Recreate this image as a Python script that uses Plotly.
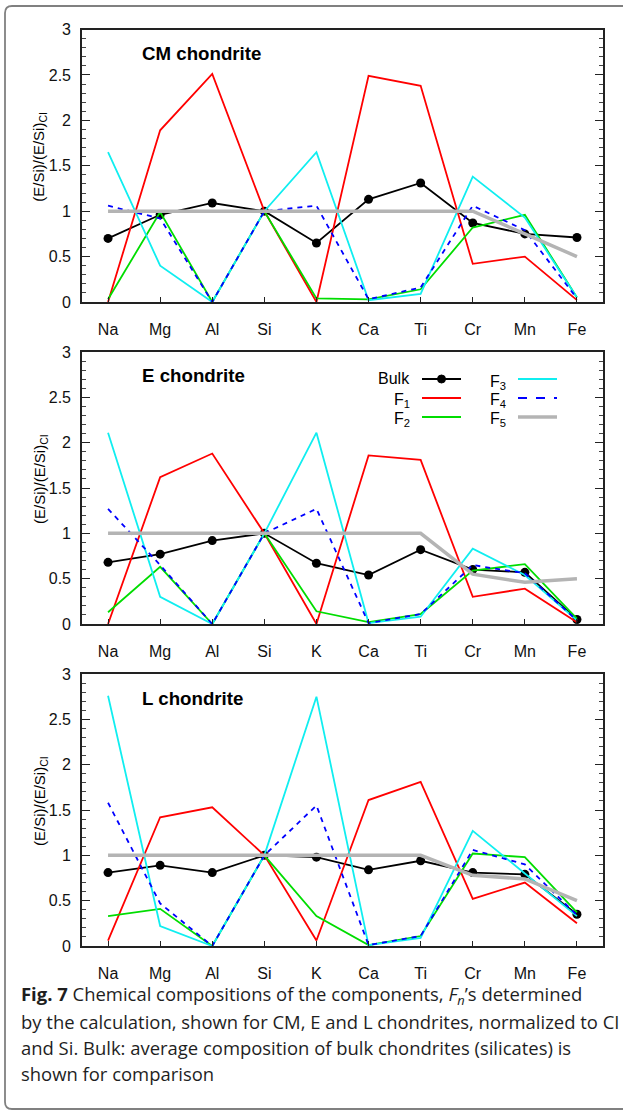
import plotly.graph_objects as go

W, H = 623, 1111

elements = ["Na", "Mg", "Al", "Si", "K", "Ca", "Ti", "Cr", "Mn", "Fe"]
y_ticks = [0, 0.5, 1, 1.5, 2, 2.5, 3]
y_tick_labels = ["0", "0.5", "1", "1.5", "2", "2.5", "3"]

series_names = ["Bulk", "F<sub>1</sub>", "F<sub>2</sub>", "F<sub>3</sub>", "F<sub>4</sub>", "F<sub>5</sub>"]

# CM chondrite
cm_bulk = [0.70, 0.96, 1.09, 1.00, 0.65, 1.13, 1.31, 0.87, 0.75, 0.71]
cm_f1 = [0.00, 1.89, 2.51, 1.00, 0.00, 2.49, 2.38, 0.42, 0.50, 0.02]
cm_f2 = [0.03, 0.99, 0.00, 1.00, 0.04, 0.03, 0.14, 0.82, 0.96, 0.05]
cm_f3 = [1.65, 0.40, 0.00, 1.00, 1.65, 0.02, 0.09, 1.38, 0.93, 0.05]
cm_f4 = [1.06, 0.92, 0.00, 1.00, 1.06, 0.03, 0.16, 1.06, 0.79, 0.04]
cm_f5 = [1.00, 1.00, 1.00, 1.00, 1.00, 1.00, 1.00, 1.00, 0.75, 0.50]

# E chondrite
e_bulk = [0.68, 0.77, 0.92, 1.00, 0.67, 0.54, 0.82, 0.60, 0.57, 0.05]
e_f1 = [0.00, 1.62, 1.88, 1.00, 0.00, 1.86, 1.81, 0.30, 0.39, 0.02]
e_f2 = [0.13, 0.63, 0.00, 1.00, 0.14, 0.02, 0.11, 0.59, 0.66, 0.06]
e_f3 = [2.11, 0.30, 0.00, 1.00, 2.11, 0.01, 0.08, 0.83, 0.54, 0.04]
e_f4 = [1.27, 0.65, 0.00, 1.00, 1.27, 0.01, 0.11, 0.65, 0.56, 0.04]
e_f5 = [1.00, 1.00, 1.00, 1.00, 1.00, 1.00, 1.00, 0.55, 0.46, 0.50]

# L chondrite
l_bulk = [0.81, 0.89, 0.81, 1.00, 0.98, 0.84, 0.94, 0.81, 0.79, 0.35]
l_f1 = [0.06, 1.42, 1.53, 1.00, 0.06, 1.61, 1.81, 0.52, 0.70, 0.25]
l_f2 = [0.33, 0.41, 0.00, 1.00, 0.33, 0.01, 0.11, 1.02, 0.98, 0.37]
l_f3 = [2.76, 0.22, 0.00, 1.00, 2.75, 0.01, 0.09, 1.27, 0.80, 0.33]
l_f4 = [1.58, 0.47, 0.00, 1.00, 1.55, 0.01, 0.11, 1.06, 0.90, 0.34]
l_f5 = [1.00, 1.00, 1.00, 1.00, 1.00, 1.00, 1.00, 0.78, 0.74, 0.50]

panels = [
    ("CM chondrite", [cm_bulk, cm_f1, cm_f2, cm_f3, cm_f4, cm_f5]),
    ("E chondrite", [e_bulk, e_f1, e_f2, e_f3, e_f4, e_f5]),
    ("L chondrite", [l_bulk, l_f1, l_f2, l_f3, l_f4, l_f5]),
]

styles = [
    dict(color="#000000", width=1.8, dash="solid"),
    dict(color="#ff0000", width=1.8, dash="solid"),
    dict(color="#00dd00", width=1.8, dash="solid"),
    dict(color="#10eef0", width=1.8, dash="solid"),
    dict(color="#0000ff", width=1.8, dash="5px,5px"),
    dict(color="#b4b4b4", width=3.5, dash="solid"),
]

# panel geometry in pixels (top, bottom)
plot_left, plot_right = 82, 603
panel_rows = [(29.5, 302), (352, 624), (674, 946)]


def fx(px):
    return px / W


def fy(py):
    return 1 - py / H


FONT = "Liberation Sans, Arial, sans-serif"

fig = go.Figure()
layout = dict(
    width=W, height=H,
    margin=dict(l=0, r=0, t=0, b=0, pad=0, autoexpand=False),
    paper_bgcolor="white", plot_bgcolor="white",
    showlegend=False,
    font=dict(family=FONT, size=16, color="#000"),
)

annotations = []
shapes = []

for i, (title, data) in enumerate(panels):
    sfx = "" if i == 0 else str(i + 1)
    xa, ya = "x" + sfx, "y" + sfx
    top, bot = panel_rows[i]

    for k, vals in enumerate(data):
        st = styles[k]
        fig.add_trace(go.Scatter(
            x=elements, y=vals, xaxis=xa, yaxis=ya,
            mode="lines+markers" if k == 0 else "lines",
            line=dict(color=st["color"], width=st["width"], dash=st["dash"]),
            marker=dict(size=9, color="#000") if k == 0 else None,
            name=series_names[k],
        ))

    layout["xaxis" + sfx] = dict(
        domain=[fx(plot_left), fx(plot_right)], anchor=ya, automargin=False,
        type="category", categoryorder="array", categoryarray=elements,
        range=[-0.5, 9.5], showgrid=False, zeroline=False,
        showline=True, linecolor="#222", linewidth=1.6, mirror=True,
        ticks="inside", ticklen=5, tickcolor="#222", tickwidth=1,
        ticklabelstandoff=12,
        tickfont=dict(family=FONT, size=16, color="#111"),
    )
    layout["yaxis" + sfx] = dict(
        domain=[fy(bot), fy(top)], anchor=xa, automargin=False,
        range=[0, 3], showgrid=False, zeroline=False,
        showline=True, linecolor="#222", linewidth=1.6, mirror="ticks",
        tickmode="array", tickvals=y_ticks, ticktext=y_tick_labels,
        ticks="inside", ticklen=8, tickcolor="#222", tickwidth=1,
        minor=dict(dtick=0.1, ticks="inside", ticklen=4, tickcolor="#444", tickwidth=1, showgrid=False),
        ticklabelstandoff=6,
        tickfont=dict(family=FONT, size=16, color="#111"),
    )

    annotations.append(dict(
        xref="paper", yref="paper", x=fx(140), y=fy(top + 24),
        xanchor="left", yanchor="middle", showarrow=False,
        text="<b>%s</b>" % title, font=dict(family=FONT, size=18.7, color="#000"),
    ))
    annotations.append(dict(
        xref="paper", yref="paper", x=fx(40), y=fy((top + bot) / 2 - 9),
        xanchor="center", yanchor="middle", showarrow=False, textangle=-90,
        text="(E/Si)/(E/Si)<sub>CI</sub>", font=dict(family=FONT, size=15, color="#000"),
    ))

# legend inside the E chondrite panel
legend_rows = [379, 398, 417]
legend_cols = [(412, 422, 461), (508, 518, 557)]
for k in range(6):
    col, row = divmod(k, 3)
    tx, l0, l1 = legend_cols[col]
    ly = legend_rows[row]
    st = styles[k]
    annotations.append(dict(
        xref="paper", yref="paper", x=fx(tx), y=fy(ly - 1 if k == 0 else ly + 3),
        xanchor="right", yanchor="middle", showarrow=False,
        text=series_names[k], font=dict(family=FONT, size=16, color="#000"),
    ))
    shapes.append(dict(
        type="line", xref="paper", yref="paper",
        x0=fx(l0), x1=fx(l1), y0=fy(ly), y1=fy(ly),
        line=dict(color=st["color"], width=st["width"], dash="dash" if k == 4 else "solid"),
    ))
    if k == 0:
        shapes.append(dict(
            type="circle", xref="paper", yref="paper",
            x0=fx((l0 + l1) / 2 - 4), x1=fx((l0 + l1) / 2 + 4),
            y0=fy(ly - 4), y1=fy(ly + 4),
            fillcolor="#000", line=dict(color="#000", width=1),
        ))

# outer frame with rounded left corners (open on the right)
FRAME = dict(color="#808080", width=1.8)
fl, ft, fb, r = 5, 6, 1109, 7
shapes += [
    dict(type="line", xref="paper", yref="paper", x0=fx(fl + r), x1=1, y0=fy(ft), y1=fy(ft), line=FRAME),
    dict(type="line", xref="paper", yref="paper", x0=fx(fl), x1=fx(fl), y0=fy(ft + r), y1=fy(fb - r), line=FRAME),
    dict(type="line", xref="paper", yref="paper", x0=fx(fl + r), x1=1, y0=fy(fb), y1=fy(fb), line=FRAME),
    dict(type="path", xref="paper", yref="paper", line=FRAME,
         path="M {0},{1} Q {2},{1} {2},{3}".format(fx(fl + r), fy(ft), fx(fl), fy(ft + r))),
    dict(type="path", xref="paper", yref="paper", line=FRAME,
         path="M {0},{1} Q {0},{2} {3},{2}".format(fx(fl), fy(fb - r), fy(fb), fx(fl + r))),
]

# caption
CAP_FONT = "Open Sans, Noto Sans, sans-serif"
caption_lines = [
    "<b>Fig. 7</b> Chemical compositions of the components, <i>F<sub>n</sub></i>’s determined",
    "by the calculation, shown for CM, E and L chondrites, normalized to CI",
    "and Si. Bulk: average composition of bulk chondrites (silicates) is",
    "shown for comparison",
]
caption_y = [995, 1021, 1047, 1073]
for line, cy in zip(caption_lines, caption_y):
    annotations.append(dict(
        xref="paper", yref="paper", x=fx(19), y=fy(cy),
        xanchor="left", yanchor="middle", showarrow=False,
        text=line, font=dict(family=CAP_FONT, size=18.45, color="#1e1e1e"),
    ))

layout["annotations"] = annotations
layout["shapes"] = shapes
fig.update_layout(**layout)

fig.write_html("out.html")
